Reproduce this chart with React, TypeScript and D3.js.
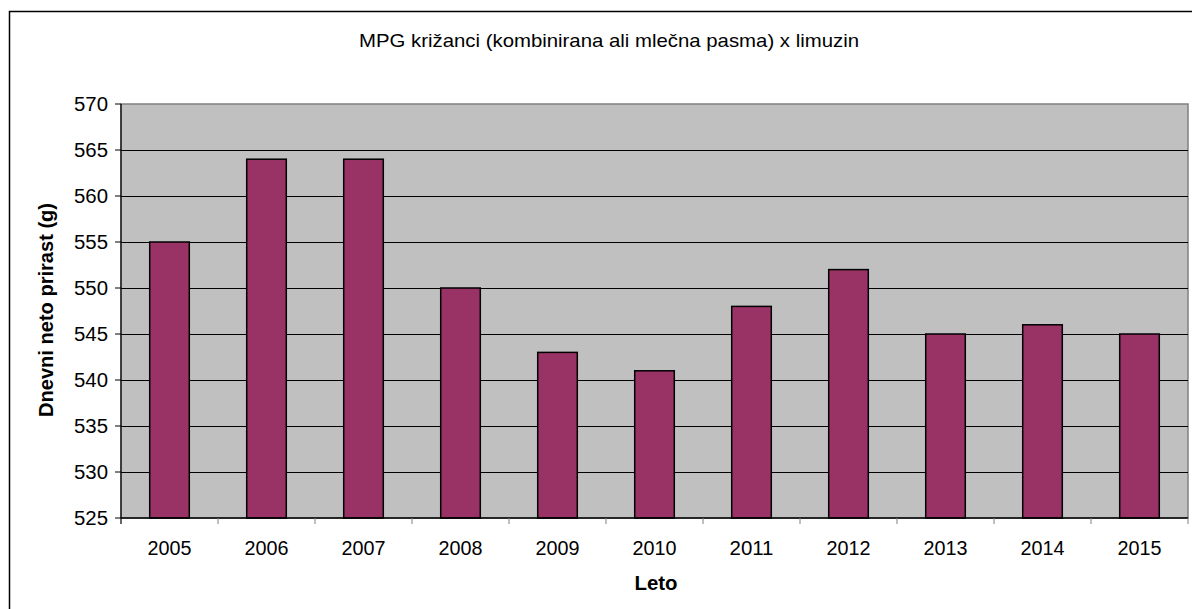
import React from "react";
import * as d3 from "d3";

const title = "MPG križanci (kombinirana ali mlečna pasma) x limuzin";
const yTitle = "Dnevni neto prirast (g)";
const xTitle = "Leto";
const years = ["2005", "2006", "2007", "2008", "2009", "2010", "2011", "2012", "2013", "2014", "2015"];
const values = [555, 564, 564, 550, 543, 541, 548, 552, 545, 546, 545];
const yTicks = [525, 530, 535, 540, 545, 550, 555, 560, 565, 570];

export default function App() {
  const W = 1192, H = 609;
  const left = 121, right = 1188, top = 104, bottom = 518;
  const x = d3.scaleBand<string>().domain(years).range([left, right]).paddingInner(0).paddingOuter(0);
  const y = d3.scaleLinear().domain([525, 570]).range([bottom, top]);
  const bw = x.bandwidth() / 2.45;
  const font = "Arial, 'Liberation Sans', sans-serif";
  return (
    <svg width={W} height={H} style={{ position: "absolute", left: 0, top: 0, background: "#fff" }} fontFamily={font}>
      <rect x={9.5} y={11.5} width={1200} height={620} fill="#fff" stroke="#000" strokeWidth={1.5} />
      <text x={609} y={47} textAnchor="middle" fontSize={19} textLength={500} lengthAdjust="spacingAndGlyphs">{title}</text>
      <rect x={left} y={top} width={right - left} height={bottom - top} fill="#C0C0C0" stroke="#808080" strokeWidth={1.5} />
      {yTicks.filter(t => t !== 570 && t !== 525).map(t => (
        <line key={"g" + t} x1={left} x2={right} y1={Math.round(y(t)) + 0.5} y2={Math.round(y(t)) + 0.5} stroke="#000" strokeWidth={1} />
      ))}
      {years.map((yr, i) => (
        <rect key={yr} x={x(yr)! + x.bandwidth() / 2 - bw / 2} y={y(values[i])} width={bw} height={bottom - y(values[i])}
          fill="#993366" stroke="#000" strokeWidth={1.5} />
      ))}
      <line x1={left} x2={left} y1={top} y2={bottom + 6} stroke="#000" strokeWidth={1.2} />
      <line x1={left} x2={right} y1={bottom} y2={bottom} stroke="#000" strokeWidth={1.5} />
      {yTicks.map(t => (
        <g key={"t" + t}>
          <line x1={left - 6} x2={left} y1={y(t)} y2={y(t)} stroke="#000" strokeWidth={1} />
          <text x={108} y={y(t) + 7} textAnchor="end" fontSize={20} textLength={34} lengthAdjust="spacingAndGlyphs">{t}</text>
        </g>
      ))}
      {years.map((yr, i) => (
        <line key={"xt" + yr} x1={x(yr)! + x.bandwidth()} x2={x(yr)! + x.bandwidth()} y1={bottom} y2={bottom + 6} stroke="#808080" strokeWidth={1} />
      ))}
      {years.map(yr => (
        <text key={"xl" + yr} x={x(yr)! + x.bandwidth() / 2} y={555} textAnchor="middle" fontSize={20} textLength={44} lengthAdjust="spacingAndGlyphs">{yr}</text>
      ))}
      <text x={656} y={590} textAnchor="middle" fontSize={20} fontWeight="bold" textLength={43} lengthAdjust="spacingAndGlyphs">{xTitle}</text>
      <text transform="translate(53,310) rotate(-90)" textAnchor="middle" fontSize={20} fontWeight="bold" textLength={214} lengthAdjust="spacingAndGlyphs">{yTitle}</text>
    </svg>
  );
}
